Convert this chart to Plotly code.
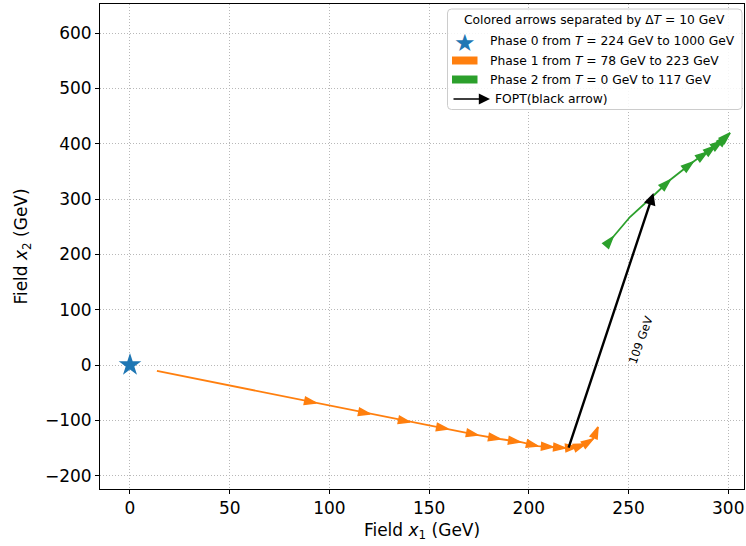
import math
import plotly.graph_objects as go

# ---------------- data ----------------
phase0_x = [0.0]
phase0_y = [0.0]

phase1_x = [13.5, 93.3, 120.4, 140.4, 159.5, 174.5, 185.6, 195.6, 204.6, 212.1, 218.2, 224.2, 228.2, 232.2, 234.7]
phase1_y = [-10.8, -68.7, -88.6, -103.1, -115.7, -126.6, -133.8, -139.2, -146.5, -148.3, -150.1, -148.3, -142.9, -133.8, -112.1]
phase1_arrow = [0, 1, 1, 1, 1, 1, 1, 1, 1, 1, 1, 1, 1, 1, 1]

phase2_x = [239.7, 242.2, 250.7, 262.3, 270.8, 282.3, 289.4, 293.4, 296.9, 299.6, 300.9]
phase2_y = [220.6, 231.5, 267.6, 305.6, 334.5, 367.0, 385.0, 396.0, 405.0, 415.0, 419.5]
phase2_arrow = [0, 1, 0, 0, 1, 1, 1, 1, 1, 1, 1]

fopt_start = (219.7, -151.9)
fopt_end = (262.5, 311.0)
fopt_label = "109 GeV"

legend_title = "Colored arrows separated by Δ<i>T</i> = 10 GeV"
legend_labels = [
    "Phase 0 from <i>T</i> = 224 GeV to 1000 GeV",
    "Phase 1 from <i>T</i> = 78 GeV to 223 GeV",
    "Phase 2 from <i>T</i> = 0 GeV to 117 GeV",
    "FOPT(black arrow)",
]

x_ticks = [0, 50, 100, 150, 200, 250, 300]
y_ticks = [-200, -100, 0, 100, 200, 300, 400, 500, 600]

# ---------------- style ----------------
BLUE = "#1f77b4"
ORANGE = "#ff7f0e"
GREEN = "#2ca02c"
FONT = "DejaVu Sans"
W, H = 746, 546
ML, MR, MT, MB = 100, 2, 4, 57
PW, PH = W - ML - MR, H - MT - MB
XR = [-15.04, 307.9]
YR = [-224.2, 652.8]
SX = PW / (XR[1] - XR[0])   # px per x unit
SY = PH / (YR[1] - YR[0])   # px per y unit


def px(xp):
    return (xp - ML) / PW


def py(yp):
    return (H - MB - yp) / PH


def headings(xs, ys):
    # screen-space direction of travel at each point (deg, clockwise from up)
    out = []
    for i in range(len(xs)):
        j = max(i, 1)
        dx = (xs[j] - xs[j - 1]) * SX
        dy = (ys[j] - ys[j - 1]) * SY
        out.append(math.degrees(math.atan2(dx, dy)))
    return out


fig = go.Figure()

fig.add_trace(go.Scatter(
    x=phase0_x, y=phase0_y, mode="markers",
    marker=dict(symbol="star", size=17, color=BLUE, opacity=1, line=dict(width=0)),
    showlegend=False, hoverinfo="skip"))

for xs, ys, flags, col in [(phase1_x, phase1_y, phase1_arrow, ORANGE),
                           (phase2_x, phase2_y, phase2_arrow, GREEN)]:
    fig.add_trace(go.Scatter(
        x=xs, y=ys, mode="lines",
        line=dict(color=col, width=1.8),
        showlegend=False, hoverinfo="skip"))
    fig.add_trace(go.Scatter(
        x=xs, y=ys, mode="markers",
        marker=dict(symbol="arrow", angleref="up", angle=headings(xs, ys),
                    size=[12 if f else 0 for f in flags], opacity=1,
                    color=col, line=dict(width=1.5, color=col)),
        showlegend=False, hoverinfo="skip"))

# black FOPT arrow
fig.add_annotation(x=fopt_end[0], y=fopt_end[1], ax=fopt_start[0], ay=fopt_start[1],
                   xref="x", yref="y", axref="x", ayref="y", text="",
                   showarrow=True, arrowhead=2, arrowsize=1.0, arrowwidth=2.4,
                   arrowcolor="black", standoff=0, startstandoff=0)
midx = (fopt_start[0] + fopt_end[0]) / 2
midy = (fopt_start[1] + fopt_end[1]) / 2
fig.add_annotation(x=midx, y=midy, xref="x", yref="y", text=fopt_label,
                   showarrow=False, textangle=-70, xshift=30, yshift=-19,
                   font=dict(family=FONT, size=11.5, color="black"))

# ---------------- legend (drawn manually) ----------------
lx0, lx1, ly0, ly1, rr = 447.5, 742.0, 9.0, 109.5, 4.0
path = (f"M {px(lx0 + rr)},{py(ly0)} L {px(lx1 - rr)},{py(ly0)} "
        f"Q {px(lx1)},{py(ly0)} {px(lx1)},{py(ly0 + rr)} "
        f"L {px(lx1)},{py(ly1 - rr)} Q {px(lx1)},{py(ly1)} {px(lx1 - rr)},{py(ly1)} "
        f"L {px(lx0 + rr)},{py(ly1)} Q {px(lx0)},{py(ly1)} {px(lx0)},{py(ly1 - rr)} "
        f"L {px(lx0)},{py(ly0 + rr)} Q {px(lx0)},{py(ly0)} {px(lx0 + rr)},{py(ly0)} Z")
fig.add_shape(type="path", path=path, xref="paper", yref="paper",
              fillcolor="rgba(255,255,255,0.85)", line=dict(color="#cccccc", width=1),
              layer="above")

LFS = 12.3
fig.add_annotation(x=px((lx0 + lx1) / 2), y=py(20.5), xref="paper", yref="paper",
                   text=legend_title, showarrow=False, xanchor="center", yanchor="middle",
                   font=dict(family=FONT, size=LFS, color="black"))
rows_y = [41.5, 60.5, 79.5, 99.0]
text_x = [488, 488, 488, 493]
for lab, yy, tx in zip(legend_labels, rows_y, text_x):
    fig.add_annotation(x=px(tx), y=py(yy), xref="paper", yref="paper", text=lab,
                       showarrow=False, xanchor="left", yanchor="middle",
                       font=dict(family=FONT, size=LFS, color="black"))
# star symbol
fig.add_annotation(x=px(464.5), y=py(rows_y[0] + 1), xref="paper", yref="paper", text="★",
                   showarrow=False, xanchor="center", yanchor="middle",
                   font=dict(family=FONT, size=24, color=BLUE))
# patches
for yy, col in [(rows_y[1], ORANGE), (rows_y[2], GREEN)]:
    fig.add_shape(type="rect", xref="paper", yref="paper",
                  x0=px(452), x1=px(477.5), y0=py(yy - 4), y1=py(yy + 4),
                  fillcolor=col, line=dict(width=0), layer="above")
# arrow
fig.add_annotation(x=px(490), y=py(rows_y[3]), xref="paper", yref="paper", text="",
                   ax=-38, ay=0, showarrow=True, arrowhead=2, arrowsize=1.4,
                   arrowwidth=1.6, arrowcolor="black", standoff=0)

# ---------------- axes ----------------
axis_common = dict(
    showline=True, linecolor="black", linewidth=1, mirror=True,
    ticks="outside", ticklen=4, tickwidth=1, tickcolor="black",
    showgrid=True, gridcolor="#b8b8b8", gridwidth=1, griddash="1px,2px",
    zeroline=False,
    tickfont=dict(family=FONT, size=17, color="black"),
)
fig.update_xaxes(range=XR, tickvals=x_ticks,
                 title=dict(text="Field <i>x</i><sub>1</sub> (GeV)",
                            font=dict(family=FONT, size=17, color="black"), standoff=6),
                 **axis_common)
fig.update_yaxes(range=YR, tickvals=y_ticks,
                 title=dict(text="Field <i>x</i><sub>2</sub> (GeV)",
                            font=dict(family=FONT, size=17, color="black"), standoff=12),
                 **axis_common)

fig.update_layout(
    width=W, height=H,
    margin=dict(l=ML, r=MR, t=MT, b=MB, autoexpand=False),
    paper_bgcolor="white", plot_bgcolor="white",
    showlegend=False,
    font=dict(family=FONT, color="black"),
)

fig.write_html("out.html", config={"displayModeBar": False},
               post_script="document.body.style.margin='0';document.body.style.padding='0';")
